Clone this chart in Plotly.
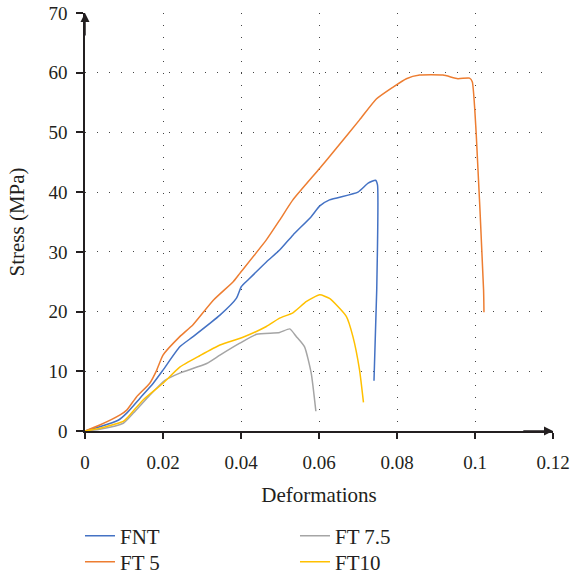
import plotly.graph_objects as go

# FNT
fnt_x = [0, 0.0038, 0.0085, 0.0107, 0.0141, 0.0175, 0.0200, 0.0243, 0.0277, 0.0346, 0.0388, 0.0401, 0.0418,
         0.0465, 0.0499, 0.0533, 0.0580, 0.0602, 0.0627, 0.0700, 0.0726, 0.0745, 0.0750, 0.0748, 0.0741]
fnt_y = [0, 0.7, 1.8, 3.0, 5.5, 8.0, 10.2, 14.1, 15.8, 19.4, 22.2, 24.2, 25.3,
         28.3, 30.3, 32.8, 35.9, 37.7, 38.7, 40.0, 41.5, 42.0, 41.2, 23.6, 8.4]

# FT 5
ft5_x = [0, 0.0038, 0.0090, 0.0107, 0.0132, 0.0166, 0.0184, 0.0200, 0.0243, 0.0277, 0.0329, 0.0380, 0.0397,
         0.0465, 0.0499, 0.0533, 0.0602, 0.0645, 0.0704, 0.0747, 0.0790, 0.0824, 0.0858, 0.0918, 0.0956,
         0.0986, 0.0993, 0.1003, 0.1022, 0.1023]
ft5_y = [0, 1.0, 2.7, 3.5, 5.7, 8.0, 10.2, 12.7, 15.8, 17.8, 21.9, 25.0, 26.4,
         32.0, 35.3, 38.7, 44.0, 47.4, 52.1, 55.6, 57.6, 59.0, 59.6, 59.6, 59.0,
         59.1, 58.5, 49.9, 23.6, 19.9]

# FT 7.5
ft75_x = [0, 0.0038, 0.0098, 0.0124, 0.0166, 0.0205, 0.0243, 0.0312, 0.0346, 0.0397, 0.0440, 0.0499,
          0.0525, 0.0542, 0.0563, 0.0580, 0.0592]
ft75_y = [0, 0.3, 1.3, 3.0, 6.0, 8.5, 9.7, 11.3, 12.7, 14.7, 16.2, 16.5,
          17.1, 15.8, 14.1, 9.7, 3.3]

# FT10
ft10_x = [0, 0.0038, 0.0098, 0.0111, 0.0149, 0.0200, 0.0243, 0.0294, 0.0346, 0.0405, 0.0465, 0.0499,
          0.0533, 0.0568, 0.0602, 0.0627, 0.0670, 0.0687, 0.0704, 0.0714]
ft10_y = [0, 0.45, 1.6, 2.4, 5.2, 8.0, 10.7, 12.6, 14.4, 15.7, 17.5, 18.9,
          19.8, 21.7, 22.8, 22.2, 19.2, 15.8, 10.2, 4.8]

x_ticks = [0, 0.02, 0.04, 0.06, 0.08, 0.1, 0.12]
x_tick_labels = ["0", "0.02", "0.04", "0.06", "0.08", "0.1", "0.12"]
y_ticks = [0, 10, 20, 30, 40, 50, 60, 70]

FONT = "Liberation Serif"

fig = go.Figure()
series = [
    ("FNT", fnt_x, fnt_y, "#4472C4", "legend"),
    ("FT 7.5", ft75_x, ft75_y, "#A5A5A5", "legend2"),
    ("FT 5", ft5_x, ft5_y, "#ED7D31", "legend3"),
    ("FT10", ft10_x, ft10_y, "#FFC000", "legend4"),
]
for name, xs, ys, col, lg in series:
    fig.add_trace(go.Scatter(x=xs, y=ys, mode="lines", name=name, legend=lg, showlegend=True,
                             line=dict(color=col, width=1.5, shape="spline", smoothing=0.5)))

grid = dict(showgrid=True, gridcolor="#444444", gridwidth=1.2, griddash="1.2px,10.8px")


def leg(x, y):
    return dict(orientation="h", x=x, xanchor="left", y=y, yanchor="middle",
                font=dict(size=21), itemwidth=30, bgcolor="rgba(0,0,0,0)")


fig.update_layout(
    width=572, height=574,
    showlegend=True,
    margin=dict(l=85, r=19, t=13, b=143, autoexpand=False),
    plot_bgcolor="white", paper_bgcolor="white",
    font=dict(family=FONT, size=19, color="#231F20"),
    xaxis=dict(range=[0, 0.12], tickvals=x_ticks, ticktext=x_tick_labels,
               showline=True, linecolor="#231F20", linewidth=1.5,
               ticks="outside", ticklen=6, tickwidth=1.5, tickcolor="#231F20",
               ticklabelstandoff=7, zeroline=False, automargin=True,
               title=dict(text="Deformations", font=dict(size=21), standoff=16),
               **grid),
    yaxis=dict(range=[0, 70], tickvals=y_ticks,
               showline=True, linecolor="#231F20", linewidth=1.5,
               ticks="outside", ticklen=7, tickwidth=1.5, tickcolor="#231F20",
               ticklabelstandoff=5, zeroline=False, automargin=True,
               title=dict(text="Stress (MPa)", font=dict(size=21), standoff=18),
               **grid),
    legend=leg(-0.0107, -0.2512),
    legend2=leg(0.4487, -0.2512),
    legend3=leg(-0.0107, -0.3134),
    legend4=leg(0.4487, -0.3134),
)

# axis arrows
fig.add_annotation(x=0.12, y=0, ax=0.112, ay=0, xref="x", yref="y", axref="x", ayref="y",
                   text="", showarrow=True, arrowhead=2, arrowsize=1.2, arrowwidth=1.5,
                   arrowcolor="#231F20")
fig.add_annotation(x=0, y=70, ax=0, ay=66, xref="x", yref="y", axref="x", ayref="y",
                   text="", showarrow=True, arrowhead=2, arrowsize=1.2, arrowwidth=1.5,
                   arrowcolor="#231F20")

# remove the browser's default 8px body margin so the figure fills the window
fig.write_html("out.html", config={"displayModeBar": False},
               post_script="document.body.style.margin='0';")
